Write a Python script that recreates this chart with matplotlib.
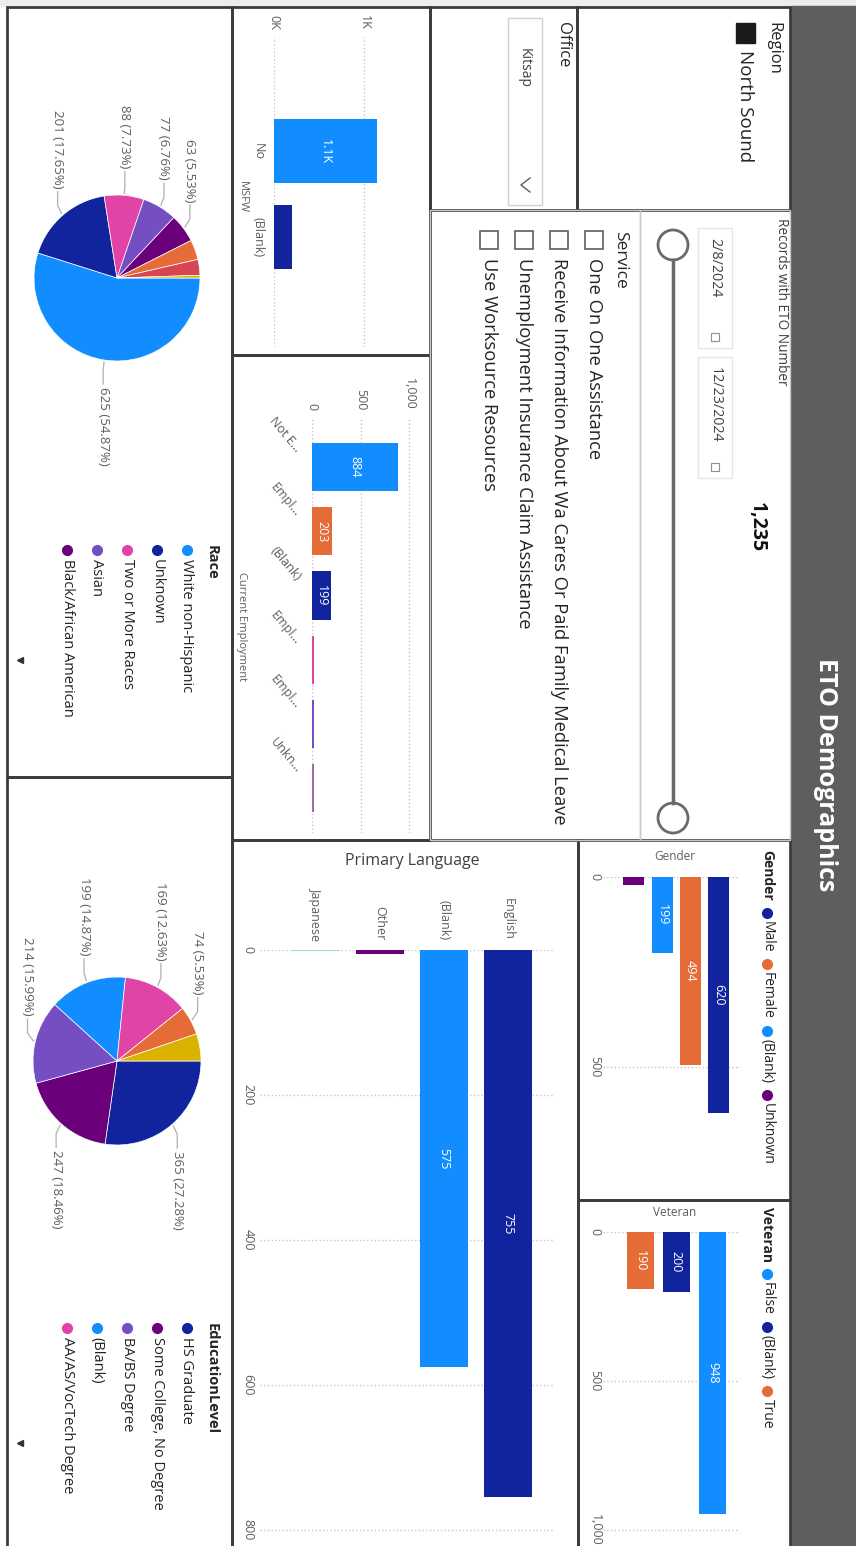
import numpy as np
import matplotlib.pyplot as plt
from matplotlib.patches import Rectangle, Circle

plt.rcParams['font.family'] = ['Open Sans', 'DejaVu Sans']

# ---- data ----
msfw_cats = ['No', '(Blank)']
msfw_vals = [1140, 200]

emp_cats = ['Not E…', 'Empl…', '(Blank)', 'Empl…', 'Empl…', 'Unkn…']
emp_vals = [884, 203, 199, 20, 18, 16]

lang_cats = ['English', '(Blank)', 'Other', 'Japanese']
lang_vals = [755, 575, 6, 2]

gender_cats = ['Male', 'Female', '(Blank)', 'Unknown']
gender_vals = [620, 494, 199, 22]

vet_cats = ['False', '(Blank)', 'True']
vet_vals = [948, 200, 190]

race_cats = ['White non-Hispanic', 'Unknown', 'Two or More Races', 'Asian',
             'Black/African American', 'Hispanic/Latino',
             'American Indian/Alaska Native', 'Native Hawaiian/Pacific Islander']
race_vals = [625, 201, 88, 77, 63, 44, 35, 6]

edu_cats = ['HS Graduate', 'Some College, No Degree', 'BA/BS Degree', '(Blank)',
            'AA/AS/VocTech Degree', 'Graduate Degree', 'Less Than HS']
edu_vals = [365, 247, 214, 199, 169, 74, 70]

service_items = ['One On One Assistance',
                 'Receive Information About Wa Cares Or Paid Family Medical Leave',
                 'Unemployment Insurance Claim Assistance',
                 'Use Worksource Resources']
record_count = 1235
date_from, date_to = '2/8/2024', '12/23/2024'
region = 'North Sound'
office = 'Kitsap'

# power bi palette
LB, DB, OR, DP = '#118DFF', '#12239E', '#E66C37', '#6B007B'
PK, PU, YE, RD = '#E044A7', '#744EC2', '#D9B300', '#D64550'
GRAY = '#605E5C'
DARK = '#252423'
GRID = '#C8C6C4'

W, H = 856, 1546
fig = plt.figure(figsize=(W / 100, H / 100), dpi=100, facecolor='white')


def rect(x0, y0, x1, y1):
    # pixel box (top-left origin) -> figure fraction
    return [x0 / W, 1 - y1 / H, (x1 - x0) / W, (y1 - y0) / H]


ov = fig.add_axes([0, 0, 1, 1], zorder=10)
ov.set_xlim(0, W)
ov.set_ylim(H, 0)
ov.axis('off')
ov.patch.set_alpha(0)
rend = fig.canvas.get_renderer()


def vtext(x, y, s, size=10, color=DARK, weight='normal', va='top', ha='center'):
    return ov.text(x, y, s, rotation=-90, rotation_mode='default', ha=ha, va=va,
                   fontsize=size, color=color, fontweight=weight)


def tlen(t):
    return t.get_window_extent(rend).height


def style_axes(ax):
    ax.set_facecolor('none')
    for s in ax.spines.values():
        s.set_visible(False)


# ---- header ----
ov.add_patch(Rectangle((0, 0), W, 6, color='#EDEDED', zorder=0))
ov.add_patch(Rectangle((791, 6), W - 791, H, color='#5E5E5E', zorder=0))
vtext(826, 775, 'ETO Demographics', size=18, color='white', weight='bold', va='center')

# ---- MSFW ----
ax = fig.add_axes(rect(274, 37, 425, 347))
style_axes(ax)
pos = np.arange(len(msfw_cats))
ax.barh(pos, msfw_vals, height=0.75, color=[LB, DB], zorder=2)
ax.set_xlim(0, 1675)
ax.set_ylim(2.28, -1.33)
ax.xaxis.tick_top()
ax.set_xticks([0, 1000], ['0K', '1K'])
ax.set_yticks(pos, msfw_cats)
ax.tick_params(axis='x', labelrotation=-90, length=0, pad=5, labelsize=9, labelcolor=GRAY)
ax.tick_params(axis='y', labelrotation=-90, length=0, pad=7, labelsize=9, labelcolor=GRAY)
for lb in ax.get_yticklabels():
    lb.set_va('center')
ax.grid(axis='x', linestyle=':', color=GRID, lw=1, zorder=0)
ax.grid(axis='y', visible=False)
for p, v in zip(pos, msfw_vals):
    if v > 0.15 * 1675:
        ax.text(v / 2, p, f'{v / 1000:.1f}K', rotation=-90, ha='center', va='center',
                color='white', fontsize=9, zorder=3)
vtext(242, 197, 'MSFW', size=8, color=GRAY, va='center')

# ---- Current Employment ----
ax = fig.add_axes(rect(312, 417, 425, 833))
style_axes(ax)
pos = np.arange(len(emp_cats))
ax.barh(pos, emp_vals, height=0.75, color=[LB, OR, DB, PK, PU, '#A66999'], zorder=2)
ax.set_xlim(0, 1159)
ax.set_ylim(5.70, -0.78)
ax.xaxis.tick_top()
ax.set_xticks([0, 500, 1000], ['0', '500', '1,000'])
ax.set_yticks([])
ax.tick_params(axis='x', labelrotation=-90, length=0, pad=5, labelsize=9, labelcolor=GRAY)
ax.grid(axis='x', linestyle=':', color=GRID, lw=1, zorder=0)
tr = ax.get_yaxis_transform()
for p, c in zip(pos, emp_cats):
    ax.text(-0.12, p - 0.26, c, transform=tr, rotation=-50, rotation_mode='anchor',
            ha='right', va='center', fontsize=9, color=GRAY)
for p, v in zip(pos, emp_vals):
    if v > 0.15 * 1159:
        ax.text(v / 2, p, f'{v:,}', rotation=-90, ha='center', va='center',
                color='white', fontsize=9, zorder=3)
vtext(242, 627, 'Current Employment', size=8, color=GRAY, va='center')

# ---- Primary Language ----
ax = fig.add_axes(rect(260, 950, 553, 1546))
style_axes(ax)
pos = np.arange(len(lang_cats))
ax.bar(pos, lang_vals, width=0.75, color=[DB, LB, DP, '#9FDCB8'], zorder=2)
ax.set_xlim(3.875, -0.703)
ax.set_ylim(822, 0)
ax.xaxis.tick_top()
ax.set_xticks(pos, lang_cats)
ax.set_yticks([0, 200, 400, 600, 800])
ax.tick_params(axis='x', labelrotation=-90, length=0, pad=7, labelsize=9, labelcolor=GRAY)
ax.tick_params(axis='y', labelrotation=-90, length=0, pad=4, labelsize=9, labelcolor=GRAY)
for lb in ax.get_yticklabels():
    lb.set_va('center')
ax.grid(axis='y', linestyle=':', color=GRID, lw=1, zorder=0)
ax.grid(axis='x', visible=False)
for p, v in zip(pos, lang_vals):
    if v > 0.15 * 822:
        ax.text(p, v / 2, f'{v:,}', rotation=-90, ha='center', va='center',
                color='white', fontsize=9, zorder=3)
ov.text(412, 861, 'Primary Language', ha='center', va='center', fontsize=11.5, color='#404040')

# ---- Gender ----
ax = fig.add_axes(rect(603, 877, 740, 1195))
style_axes(ax)
pos = np.arange(len(gender_cats))
gender_colors = [DB, OR, LB, DP]
ax.bar(pos, gender_vals, width=0.745, color=gender_colors, zorder=2)
ax.set_xlim(4.096, -0.762)
ax.set_ylim(837, 0)
ax.set_xticks([])
ax.set_yticks([0, 500])
ax.tick_params(axis='y', labelrotation=-90, length=0, pad=1, labelsize=9, labelcolor=GRAY)
for lb in ax.get_yticklabels():
    lb.set_va('center')
ax.grid(axis='y', linestyle=':', color=GRID, lw=1, zorder=0)
for p, v in zip(pos, gender_vals):
    if v > 0.15 * 837:
        ax.text(p, v / 2, f'{v:,}', rotation=-90, ha='center', va='center',
                color='white', fontsize=9, zorder=3)
ov.text(675, 857, 'Gender', ha='center', va='center', fontsize=8.5, color=GRAY)

# ---- Veteran ----
ax = fig.add_axes(rect(603, 1232, 740, 1546))
style_axes(ax)
pos = np.arange(len(vet_cats))
vet_colors = [LB, DB, OR]
ax.bar(pos, vet_vals, width=0.745, color=vet_colors, zorder=2)
ax.set_xlim(3.025, -0.76)
ax.set_ylim(1054, 0)
ax.set_xticks([])
ax.set_yticks([0, 500, 1000], ['0', '500', '1,000'])
ax.tick_params(axis='y', labelrotation=-90, length=0, pad=1, labelsize=9, labelcolor=GRAY)
for lb in ax.get_yticklabels():
    lb.set_va('center')
ax.grid(axis='y', linestyle=':', color=GRID, lw=1, zorder=0)
for p, v in zip(pos, vet_vals):
    if v > 0.15 * 1054:
        ax.text(p, v / 2, f'{v:,}', rotation=-90, ha='center', va='center',
                color='white', fontsize=9, zorder=3)
ov.text(675, 1213, 'Veteran', ha='center', va='center', fontsize=8.5, color=GRAY)


def legend_col(x, y, title, names, colors):
    t = vtext(x, y, title, size=10, weight='bold')
    y += tlen(t) + 12
    for n, c in zip(names, colors):
        ov.plot(x, y, 'o', ms=7, color=c)
        t = vtext(x, y + 8, n, size=10)
        y += 8 + tlen(t) + 12


legend_col(767, 850, 'Gender', gender_cats, gender_colors)
legend_col(767, 1207, 'Veteran', vet_cats, vet_colors)


# ---- pies ----
def pie(cx, cy, r, vals, colors, n_lab):
    ax = fig.add_axes(rect(cx - r, cy - r, cx + r, cy + r))
    wedges, _ = ax.pie(vals, colors=colors, startangle=0, counterclock=False, radius=1,
                       wedgeprops=dict(linewidth=0.5, edgecolor='white'))
    ax.set_xlim(-1, 1)
    ax.set_ylim(-1, 1)
    total = sum(vals)
    for w, v in zip(wedges[:n_lab], vals[:n_lab]):
        a = np.deg2rad((w.theta1 + w.theta2) / 2)
        ex, ey = cx + (r + 2) * np.cos(a), cy - (r + 2) * np.sin(a)
        lx = cx + (r + 8) * np.cos(a)
        lab = f'{v} ({v / total * 100:.2f}%)'
        if ey < cy:
            ly = ey - 25
            ov.plot([ex, lx, lx], [ey, ey - 8, ly + 3], color='#B0B0B0', lw=0.9)
            vtext(lx, ly, lab, size=9.5, color=GRAY, va='bottom')
        else:
            ly = ey + 25
            ov.plot([ex, lx, lx], [ey, ey + 8, ly - 3], color='#B0B0B0', lw=0.9)
            vtext(lx, ly, lab, size=9.5, color=GRAY, va='top')


race_colors = [LB, DB, PK, PU, DP, OR, RD, YE]
edu_colors = [DB, DP, PU, LB, PK, OR, YE]
pie(117, 278, 83, race_vals, race_colors, 5)
pie(117, 1061, 84, edu_vals, edu_colors, 6)


def pie_legend(title, names, colors, y0):
    vtext(212, y0 - 3, title, size=10.5, weight='bold')
    for i, (n, c) in enumerate(zip(names, colors)):
        x = 187 - 30 * i
        ov.plot(x, y0 + 2, 'o', ms=7, color=c)
        vtext(x, y0 + 11, n, size=10.5)


pie_legend('Race', race_cats[:5], race_colors[:5], 548)
pie_legend('EducationLevel', edu_cats[:5], edu_colors[:5], 1326)
ov.plot([20, 20], [660, 1443], '<', ms=5, color='#333333')

# ---- region slicer ----
vtext(773, 22, 'Region', size=12)
ov.add_patch(Rectangle((736, 23), 19, 20, color='#1A1A1A'))
vtext(745, 50, region, size=13.5)

# ---- office slicer ----
vtext(563, 22, 'Office', size=12)
ov.add_patch(Rectangle((508, 18), 34, 187, fill=False, ec='#D0D0D0', lw=1))
vtext(524, 48, office, size=10, color='#404040')
ov.plot([530, 521, 530], [178, 185, 192], color='#605E5C', lw=1)

# ---- records card ----
vtext(782, 218, 'Records with ETO Number', size=9.8, color='#404040')
for y0, y1, s in [(228, 348, date_from), (357, 478, date_to)]:
    ov.add_patch(Rectangle((698, y0), 34, y1 - y0, fill=False, ec='#E6E6E6', lw=1))
    vtext(715, y0 + 10, s, size=10.3, color='#404040')
    ov.add_patch(Rectangle((711, y1 - 15), 8, 8, fill=False, ec='#909090', lw=0.8))
vtext(757, 502, f'{record_count:,}', size=14, weight='bold', color='#111111')
ov.plot([673, 673], [260, 803], color='#6A6A6A', lw=2.5)
for yc in (245, 818):
    ov.add_patch(Circle((673, yc), 15, fc='white', ec='#6A6A6A', lw=2))

# ---- service slicer ----
vtext(620, 231, 'Service', size=12.5)
for i, s in enumerate(service_items):
    x = 594 - 35 * i
    ov.add_patch(Rectangle((x - 9, 231), 18, 18, fill=False, ec='#605E5C', lw=1.2))
    vtext(x, 258, s, size=13.2)

# ---- panel borders ----
dark = [(7, 7, 232, 777), (7, 777, 232, 1560), (232, 7, 430, 355), (232, 355, 430, 840),
        (430, 7, 577, 210), (577, 7, 790, 210), (232, 840, 578, 1560),
        (578, 840, 790, 1200), (578, 1200, 790, 1560)]
for x0, y0, x1, y1 in dark:
    ov.add_patch(Rectangle((x0, y0), x1 - x0, y1 - y0, fill=False, ec='#3C3C3C', lw=2))
for x0, y0, x1, y1 in [(430, 210, 640, 840), (640, 210, 790, 840)]:
    ov.add_patch(Rectangle((x0, y0), x1 - x0, y1 - y0, fill=False, ec='#C8C8C8', lw=1))

fig.savefig('out.png', dpi=100, facecolor='white')
